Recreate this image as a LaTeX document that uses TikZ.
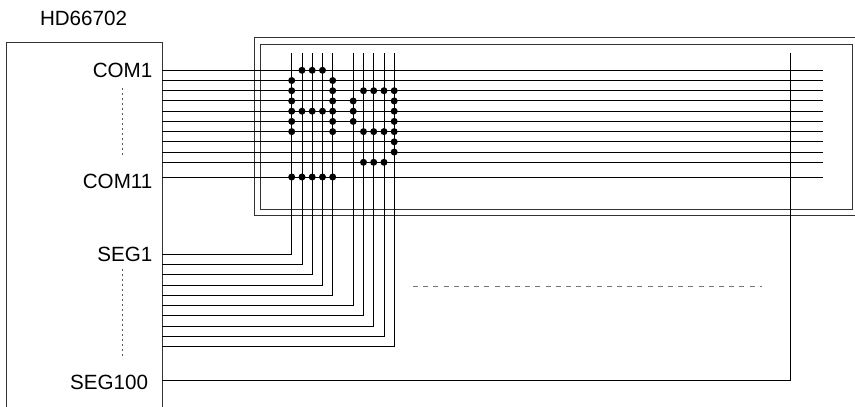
\documentclass[tikz,border=0pt]{standalone}
\usepackage{fontspec}
\setmainfont{Liberation Sans}
\begin{document}
\begin{tikzpicture}[x=1pt,y=-1pt, line width=1pt,
  wire/.style={draw=black},
  frame/.style={draw=black!80},
  lbl/.style={inner sep=0pt, font=\fontsize{20.6}{24}\selectfont},
  pix/.style={circle, fill=black, inner sep=0pt, minimum size=7pt},
  guide/.style={draw=black!65, dash pattern=on 2pt off 3pt, line width=1pt},
  gapline/.style={draw=black!55, dash pattern=on 5pt off 5.2pt, line width=1pt}]
\useasboundingbox (0,0) rectangle (855,407);
\clip (0,0) rectangle (855,407);

% chip outline (open at the bottom)
\draw[frame] (6.5,410) -- (6.5,42) -- (162,42) -- (162,410);
\node[lbl, anchor=west] (chip) at (39.5,18.8) {HD66702};

% display panel
\draw[frame] (858,37.7) -- (254.3,37.7) -- (254.3,215) -- (858,215);
\draw[frame] (260.7,44.3) rectangle (852.7,209);

% common lines
\coordinate (rowend) at (823.3,0);
\foreach \k in {1,...,10} \coordinate (c\k) at (162,{70.3+(\k-1)*10.22});
\coordinate (c11) at (162,177);
\foreach \k in {1,...,11} \draw[wire] (c\k) -- (c\k -| rowend);

% segment lines
\foreach \x [count=\i] in {291.7,302,312.2,322.5,332.7,353.2,363.5,373.7,384,394.2} {
  \coordinate (s\i) at (162,{254.3+(\i-1)*10.27});
  \coordinate (t\i) at (\x,52.7);
  \draw[wire] (s\i) -| (t\i);
}
\coordinate (s100) at (162,380.5);
\coordinate (t100) at (790.7,52.7);
\draw[wire] (s100) -| (t100);

% labels
\node[lbl, anchor=east] (lc1) at (152.8,70.5) {COM1};
\node[lbl, anchor=east] (lc11) at (152.8,181) {COM11};
\node[lbl, anchor=east] (ls1) at (152.8,254.5) {SEG1};
\node[lbl, anchor=east] (ls100) at (148.6,382) {SEG100};

% continuation marks
\draw[guide] (122.7,88) -- (122.7,155);
\draw[guide] (122.7,269) -- (122.7,359);
\draw[gapline] (413,286.7) -- (762,286.7);

% lit pixels: "A" with cursor, and "g"
\foreach \c/\r in {2/1,3/1,4/1,1/2,5/2,1/3,5/3,1/4,5/4,1/5,2/5,3/5,4/5,5/5,1/6,5/6,1/7,5/7,
                   1/11,2/11,3/11,4/11,5/11,
                   7/3,8/3,9/3,10/3,6/4,10/4,6/5,10/5,6/6,10/6,7/7,8/7,9/7,10/7,10/8,10/9,7/10,8/10,9/10}
  \node[pix] (p\c-\r) at (t\c |- c\r) {};
\end{tikzpicture}
\end{document}
